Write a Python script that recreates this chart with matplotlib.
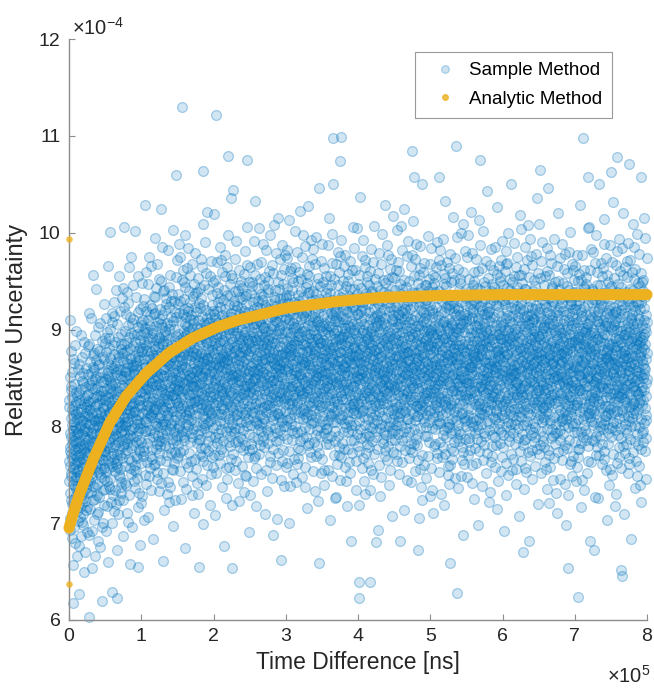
from statistics import NormalDist

import matplotlib

matplotlib.use("Agg")
import matplotlib.pyplot as plt
import numpy as np
from matplotlib.lines import Line2D
from matplotlib.ticker import FixedLocator, FuncFormatter

T_SCALE = 1e5  # time axis unit [ns]
U_SCALE = 1e-4  # uncertainty axis unit

# sample cloud, summarised per time bin (bin edges in 1e5 ns, stats in 1e-4)
bin_lo = [0.0, 0.25, 0.5, 0.75, 1.0, 1.5, 2.0, 2.5, 3.0, 3.5, 4.0, 4.5, 5.0, 5.5, 6.0, 6.5, 7.0, 7.5]
bin_hi = [0.25, 0.5, 0.75, 1.0, 1.5, 2.0, 2.5, 3.0, 3.5, 4.0, 4.5, 5.0, 5.5, 6.0, 6.5, 7.0, 7.5, 8.0]
bin_mean = [7.80, 7.98, 8.15, 8.30, 8.45, 8.55, 8.60, 8.64, 8.66, 8.66, 8.64, 8.66, 8.66, 8.66, 8.66, 8.64, 8.66, 8.66]
bin_std = [0.58, 0.60, 0.61, 0.62, 0.62, 0.62, 0.62, 0.62, 0.62, 0.62, 0.62, 0.62, 0.62, 0.62, 0.62, 0.62, 0.62, 0.62]
bin_count = [155, 150, 150, 150, 300, 300, 300, 300, 300, 300, 300, 300, 300, 300, 300, 300, 300, 300]

# isolated samples far from the bulk
outlier_t = [1.57, 2.04, 3.66, 3.77, 7.12, 5.35, 4.75, 3.75, 5.69, 7.58, 7.75, 2.20, 2.46,
             1.48, 1.85, 6.52, 7.18, 7.50, 7.92, 4.78, 5.12, 0.57, 0.76, 1.27,
             4.02, 5.37, 7.05, 0.27, 0.05, 0.66, 0.60, 4.02, 4.17, 6.90, 7.64, 7.66,
             6.29, 4.83, 5.28, 0.96, 2.26, 1.80, 3.46, 2.94, 7.27]
outlier_u = [11.30, 11.22, 10.98, 10.99, 10.98, 10.89, 10.84, 10.74, 10.75, 10.78, 10.71, 10.79, 10.75,
             10.60, 10.64, 10.65, 10.58, 10.63, 10.57, 10.57, 10.57, 10.01, 10.06, 10.24,
             6.23, 6.28, 6.24, 6.03, 6.18, 6.23, 6.29, 6.39, 6.39, 6.54, 6.52, 6.45,
             6.70, 6.72, 6.59, 6.55, 6.54, 6.55, 6.59, 6.62, 6.72]

# analytic method
analytic_t = [0.0, 0.05, 0.15, 0.33, 0.56, 0.79, 1.07, 1.39, 1.71, 2.07, 2.35, 2.58, 3.0,
              3.72, 4.3, 5.1, 6.0, 7.0, 8.0]
analytic_u = [6.95, 7.08, 7.31, 7.65, 8.03, 8.31, 8.55, 8.76, 8.91, 9.03, 9.10, 9.14, 9.22,
              9.29, 9.33, 9.35, 9.36, 9.36, 9.36]
analytic_stray_t = [0.0, 0.0]
analytic_stray_u = [9.93, 6.37]

BLUE_RGB = (0.0, 0.447, 0.741)
ORANGE = "#EDB120"
AXIS_GREY = "#8c8c8c"
TEXT = "#262626"

plt.rcParams["font.family"] = ["Liberation Sans", "DejaVu Sans"]
plt.rcParams["mathtext.fontset"] = "custom"
plt.rcParams["mathtext.rm"] = "Liberation Sans"


def radical_inverse(k, base):
    """Van der Corput radical inverse of each integer in k."""
    out = np.zeros(len(k))
    f = 1.0 / base
    k = np.array(k)
    while np.any(k > 0):
        out += f * (k % base)
        k = k // base
        f /= base
    return out


def spread_bin(lo, hi, mean, std, n, offset):
    """Lay out n samples over one bin using a Halton (2, 3) sequence."""
    k = np.arange(n) + offset + 1
    u = radical_inverse(k, 2)
    v = np.clip(radical_inverse(k, 3), 0.0015, 0.9985)
    inv = NormalDist().inv_cdf
    y = mean + std * np.array([inv(p) for p in v])
    x = lo + (hi - lo) * u
    return x, y


xs, ys = [], []
offset = 0
for lo, hi, m, s, n in zip(bin_lo, bin_hi, bin_mean, bin_std, bin_count):
    x, y = spread_bin(lo, hi, m, s, n, offset)
    offset += n
    xs.append(x)
    ys.append(y)
xs.append(np.array(outlier_t))
ys.append(np.array(outlier_u))
sample_t = np.concatenate(xs) * T_SCALE
sample_u = np.concatenate(ys) * U_SCALE

fig = plt.figure(figsize=(6.54, 6.89), dpi=100)
ax = fig.add_axes([69 / 654, 69 / 689, 578 / 654, 581 / 689])

ax.scatter(
    sample_t, sample_u, s=50,
    facecolor=BLUE_RGB + (0.18,),
    edgecolor=BLUE_RGB + (0.32,),
    linewidths=0.9, clip_on=False, zorder=2,
)
ax.plot(
    np.array(analytic_t) * T_SCALE, np.array(analytic_u) * U_SCALE,
    color=ORANGE, lw=8, solid_capstyle="round", solid_joinstyle="round",
    clip_on=False, zorder=3,
)
ax.scatter(
    np.array(analytic_stray_t) * T_SCALE, np.array(analytic_stray_u) * U_SCALE,
    s=22, color=ORANGE, alpha=0.8, linewidths=0, clip_on=False, zorder=3,
)

ax.set_xlim(0, 8 * T_SCALE)
ax.set_ylim(6 * U_SCALE, 12 * U_SCALE)
ax.xaxis.set_major_locator(FixedLocator(np.arange(0, 9) * T_SCALE))
ax.yaxis.set_major_locator(FixedLocator(np.arange(6, 13) * U_SCALE))
ax.xaxis.set_major_formatter(FuncFormatter(lambda v, p: f"{v / T_SCALE:g}"))
ax.yaxis.set_major_formatter(FuncFormatter(lambda v, p: f"{v / U_SCALE:g}"))

for side in ("top", "right"):
    ax.spines[side].set_visible(False)
for side in ("left", "bottom"):
    ax.spines[side].set_color(AXIS_GREY)
    ax.spines[side].set_linewidth(1.0)
ax.tick_params(direction="in", length=4, width=0.8, color=AXIS_GREY,
               labelcolor=TEXT, labelsize=14, pad=6)

ax.set_xlabel("Time Difference [ns]", fontsize=16.5, color=TEXT, labelpad=4)
ax.set_ylabel("Relative Uncertainty", fontsize=17, color=TEXT, labelpad=8)

fig.text(72 / 654, 1 - 28 / 689, r"$\mathregular{\times10^{-4}}$", fontsize=14.5,
         color=TEXT, ha="left", va="center")
fig.text(651 / 654, 1 - 676 / 689, r"$\mathregular{\times10^{5}}$", fontsize=14.5,
         color=TEXT, ha="right", va="center")

handles = [
    Line2D([], [], ls="none", marker="o", markersize=5.5,
           markerfacecolor=BLUE_RGB + (0.2,),
           markeredgecolor=BLUE_RGB + (0.25,)),
    Line2D([], [], ls="none", marker="o", markersize=4,
           markerfacecolor=ORANGE, markeredgecolor=ORANGE, alpha=0.8),
]
leg = ax.legend(
    handles, ["Sample Method", "Analytic Method"],
    loc="upper right", bbox_to_anchor=(0.94, 0.978), borderaxespad=0,
    fontsize=13.5, fancybox=False, framealpha=1, edgecolor="#999999",
    handlelength=2.0, handletextpad=0.3, borderpad=0.55, labelspacing=0.6,
)
leg.get_frame().set_linewidth(0.8)

fig.savefig("out.png", dpi=100)
